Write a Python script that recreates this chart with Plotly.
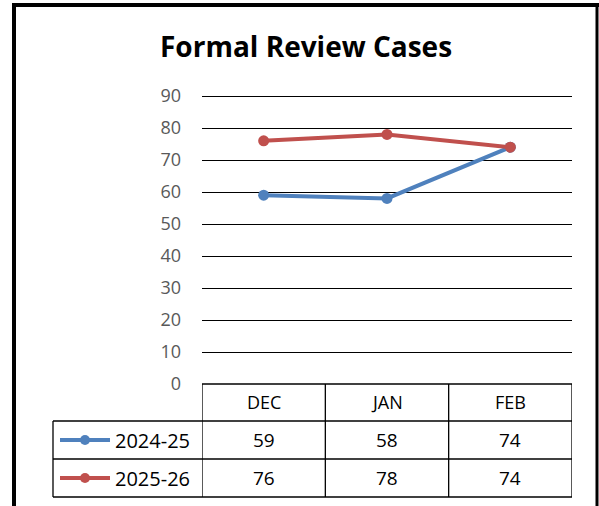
import plotly.graph_objects as go

months = ["DEC", "JAN", "FEB"]
series_names = ["2024-25", "2025-26"]
cases_2024_25 = [59, 58, 74]
cases_2025_26 = [76, 78, 74]
y_ticks = [0, 10, 20, 30, 40, 50, 60, 70, 80, 90]

W, H = 599, 506
colors = ["#4F81BD", "#C0504D"]
font = "Open Sans, Calibri, sans-serif"


def px(x):
    return x / W


def py(y):
    return 1 - y / H


fig = go.Figure()
for name, vals, col in zip(series_names, [cases_2024_25, cases_2025_26], colors):
    fig.add_trace(go.Scatter(x=months, y=vals, name=name, mode="lines+markers",
                             line=dict(color=col, width=4),
                             marker=dict(color=col, size=11), showlegend=False))

# plot area placed on the pixel positions
# (0 at y=384, 90 at y=96 -> 3.2 px per unit; range goes a bit above 90 so its gridline shows)
fig.update_layout(
    width=W, height=H, margin=dict(l=0, r=0, t=0, b=0),
    paper_bgcolor="white", plot_bgcolor="white",
    xaxis=dict(domain=[px(202), px(572)], range=[-0.5, 2.5], showticklabels=False,
               showgrid=False, zeroline=False, showline=False),
    yaxis=dict(domain=[py(384), py(96 - 3.2)], range=[0, 91], tickvals=y_ticks,
               showgrid=True, gridcolor="black", gridwidth=1, zeroline=False,
               ticks="", ticklabelstandoff=20, automargin=False,
               tickfont=dict(family=font, size=18, color="#595959")),
    font=dict(family=font),
)

shapes = []
# outer frame
shapes.append(dict(type="line", xref="paper", yref="paper", x0=px(14), x1=px(14),
                   y0=py(3), y1=py(520), line=dict(color="black", width=4)))
shapes.append(dict(type="line", xref="paper", yref="paper", x0=px(12), x1=px(599),
                   y0=py(5), y1=py(5), line=dict(color="black", width=4)))
shapes.append(dict(type="line", xref="paper", yref="paper", x0=px(597), x1=px(597),
                   y0=py(3), y1=py(520), line=dict(color="black", width=3)))

# data table
row_edges = [384, 421, 459, 497]
for i, y in enumerate(row_edges):
    x0 = px(202) if i == 0 else px(53)
    shapes.append(dict(type="line", xref="paper", yref="paper", x0=x0, x1=px(572),
                       y0=py(y), y1=py(y), line=dict(color="black", width=1.3)))
for b in [-0.5, 0.5, 1.5, 2.5]:
    shapes.append(dict(type="line", xref="x", yref="paper", x0=b, x1=b,
                       y0=py(384), y1=py(497), line=dict(color="black", width=1.3)))
shapes.append(dict(type="line", xref="paper", yref="paper", x0=px(53), x1=px(53),
                   y0=py(421), y1=py(497), line=dict(color="black", width=1.3)))

annotations = [dict(text="<b>Formal Review Cases</b>", xref="paper", yref="paper",
                    x=px(306), y=py(46), xanchor="center", yanchor="middle", showarrow=False,
                    font=dict(family=font, size=28, color="black"))]
for m in months:
    annotations.append(dict(text=m, xref="x", yref="paper", x=m, y=py(402),
                            xanchor="center", yanchor="middle", showarrow=False,
                            font=dict(family=font, size=18, color="black")))
row_centers = [440, 478]
for name, vals, col, yc in zip(series_names, [cases_2024_25, cases_2025_26], colors, row_centers):
    shapes.append(dict(type="line", xref="paper", yref="paper", x0=px(60), x1=px(110),
                       y0=py(yc), y1=py(yc), line=dict(color=col, width=4)))
    shapes.append(dict(type="circle", xref="paper", yref="paper", x0=px(80), x1=px(90),
                       y0=py(yc + 5), y1=py(yc - 5), fillcolor=col, line=dict(width=0)))
    annotations.append(dict(text=name, xref="paper", yref="paper", x=px(113), y=py(yc),
                            xanchor="left", yanchor="middle", showarrow=False,
                            font=dict(family=font, size=20, color="black")))
    for m, v in zip(months, vals):
        annotations.append(dict(text=str(v), xref="x", yref="paper", x=m, y=py(yc),
                                xanchor="center", yanchor="middle", showarrow=False,
                                font=dict(family=font, size=19, color="black")))

fig.update_layout(shapes=shapes, annotations=annotations)
fig.write_html("out.html", config={"displayModeBar": False},
               post_script="document.body.style.margin = '0';")
